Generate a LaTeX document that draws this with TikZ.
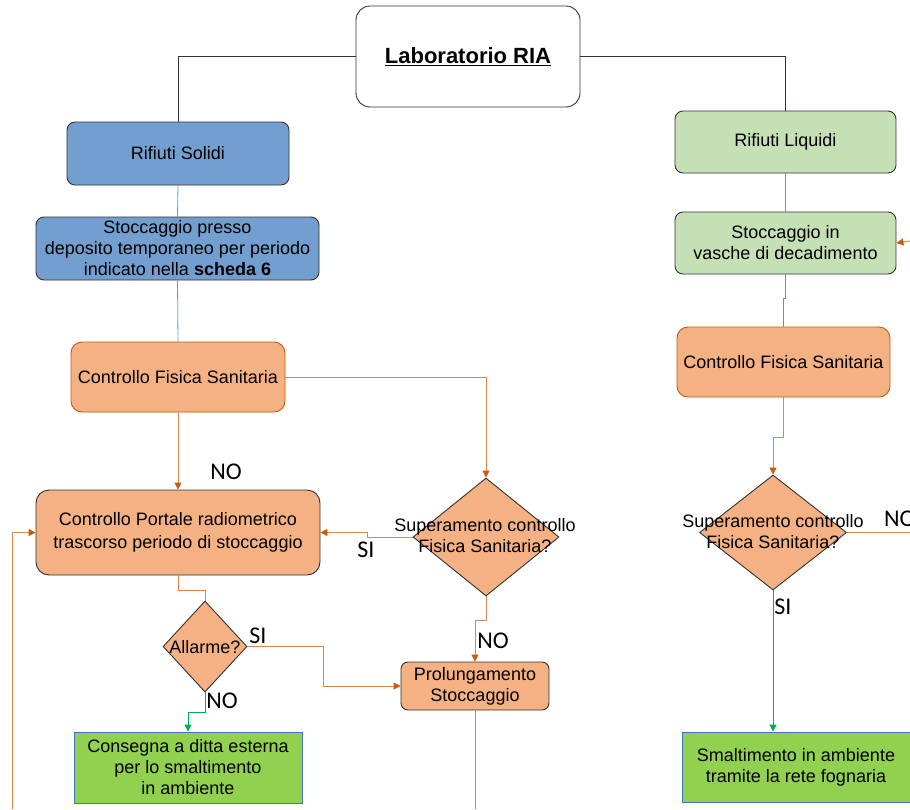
\documentclass[tikz,border=0pt]{standalone}
\usepackage{fontspec}
\setmainfont{Liberation Sans}
\newfontfamily\lblfont{Carlito}
\usetikzlibrary{shapes.geometric,arrows.meta}
\definecolor{bfill}{RGB}{114,159,207}
\definecolor{lgfill}{RGB}{197,224,180}
\definecolor{ofill}{RGB}{244,177,131}
\definecolor{oline}{RGB}{222,134,80}
\definecolor{odark}{RGB}{197,90,17}
\definecolor{gfill}{RGB}{146,208,80}
\definecolor{gborder}{RGB}{68,114,196}
\definecolor{garrow}{RGB}{0,176,80}
\definecolor{bline}{RGB}{91,155,213}
\definecolor{oliveline}{RGB}{112,160,80}
\definecolor{dgray}{RGB}{50,50,50}
\tikzset{
  box/.style={draw=dgray, line width=0.9pt, rounded corners=8pt, inner sep=0pt, align=center,
    font=\fontsize{18}{21}\selectfont},
  dia/.style={diamond, draw=dgray, line width=0.9pt, fill=ofill, inner sep=0pt},
  diatext/.style={align=center, font=\fontsize{18}{21}\selectfont},
  olink/.style={draw=oline, line width=1pt},
  oarrow/.style={olink, -{Triangle[length=7pt,width=7pt,color=odark]}},
  garr/.style={draw=garrow, line width=1pt, -{Triangle[length=7pt,width=7pt]}},
  lbl/.style={font=\lblfont\fontsize{24}{24}\selectfont, inner sep=0pt},
}
\begin{document}
\begin{tikzpicture}[x=1pt,y=-1pt]
\clip (0,0) rectangle (910,809);
\fill[white] (0,0) rectangle (910,809);
% nodes
\node[box, fill=white, rounded corners=14pt, minimum width=224pt, minimum height=101pt,
  font=\bfseries\fontsize{22}{24}\selectfont] (ria) at (468,56.5) {\underline{Laboratorio RIA}};
\node[box, fill=bfill, minimum width=222pt, minimum height=63pt] (rs) at (178,153.5) {Rifiuti Solidi};
\node[box, fill=bfill, minimum width=283pt, minimum height=63pt] (sp) at (177.5,248.5)
  {Stoccaggio presso\\deposito temporaneo per periodo\\indicato nella \textbf{scheda 6}};
\node[box, draw=odark, fill=ofill, rounded corners=11pt, minimum width=214pt, minimum height=70pt] (cfs1) at (178,377)
  {Controllo Fisica Sanitaria};
\node[box, fill=ofill, rounded corners=13pt, minimum width=284pt, minimum height=85pt,
  font=\fontsize{18}{23}\selectfont] (cp) at (178,532.5)
  {Controllo Portale radiometrico\\trascorso periodo di stoccaggio};
\node[dia, minimum width=146pt, minimum height=118pt] (d1) at (486,537) {};
\node[diatext] (d1t) at (485,536) {Superamento controllo\\Fisica Sanitaria?};
\node[box, fill=ofill, rounded corners=7pt, minimum width=148pt, minimum height=48pt] (prol) at (475,686)
  {Prolungamento\\Stoccaggio};
\node[dia, minimum width=84pt, minimum height=91pt] (al) at (205,646.5) {};
\node[diatext] (alt) at (205,647) {Allarme?};
\node[box, draw=gborder, fill=gfill, rounded corners=0pt, minimum width=228pt, minimum height=71pt] (cons) at (188,767.5)
  {Consegna a ditta esterna\\per lo smaltimento\\in ambiente};
\node[box, fill=lgfill, minimum width=221pt, minimum height=62pt] (rl) at (785.5,142) {Rifiuti Liquidi};
\node[box, fill=lgfill, minimum width=221pt, minimum height=62pt] (sv) at (785.5,243)
  {Stoccaggio in\\vasche di decadimento};
\node[box, draw=odark, fill=ofill, rounded corners=11pt, minimum width=213pt, minimum height=70pt] (cfs2) at (783.5,362)
  {Controllo Fisica Sanitaria};
\node[dia, minimum width=147pt, minimum height=115pt] (d2) at (773,532.5) {};
\node[diatext] (d2t) at (773,532) {Superamento controllo\\Fisica Sanitaria?};
\node[box, draw=gborder, fill=gfill, rounded corners=0pt, minimum width=228pt, minimum height=70pt] (sm) at (796,767)
  {Smaltimento in ambiente\\tramite la rete fognaria};
% free ends
\coordinate (fbin) at (12,809);
\coordinate (pout) at (475,809);
\coordinate (svin) at (910,241);
\coordinate (d2out) at (910,532.5);
% connectors
\draw[dgray, line width=1pt] (ria.west) -| (rs.north);
\draw[dgray, line width=1pt] (ria.east) -| (rl.north);
\draw[bline, line width=0.8pt] (rs.south) -- (sp.north);
\draw[bline, line width=0.8pt] (sp.south) -- (cfs1.north);
\draw[oarrow] (cfs1.east) -| (d1.north);
\draw[oarrow] (cfs1.south) -- (cp.north);
\draw[oarrow] (d1.west) -- ++(-45,0) |- (cp.east);
\draw[oarrow] (d1.south) -- ++(0,24) -| (prol.north);
\draw[olink] (cp.south) -- ++(0,15) -| (al.north);
\draw[oarrow] (al.east) -- ++(76,0) |- (prol.west);
\draw[garr] (al.south) -- ++(0,20) -| (cons.north);
\draw[oarrow] (fbin) |- (cp.west);
\draw[olink] (prol.south) -- (pout);
\draw[oliveline, line width=0.8pt] (rl.south) -- (sv.north);
\draw[oliveline, line width=0.8pt] (sv.south) -- ++(0,24) -| (cfs2.north);
\draw[oarrow] (svin) -- (sv.east);
\draw[oarrow] (cfs2.south) -- ++(0,40) -| (d2.north);
\draw[olink] (d2.east) -- (d2out);
\draw[garr] (d2.south) -- (d2.south |- sm.north);
% labels
\node[lbl] (l1) at (226,472) {NO};
\node[lbl] (l2) at (366,550) {SI};
\node[lbl] (l3) at (493,641) {NO};
\node[lbl] (l4) at (258,636) {SI};
\node[lbl] (l5) at (222,701) {NO};
\node[lbl] (l6) at (783,607) {SI};
\node[lbl, anchor=west] (l7) at (884,519) {NO};
\end{tikzpicture}
\end{document}
